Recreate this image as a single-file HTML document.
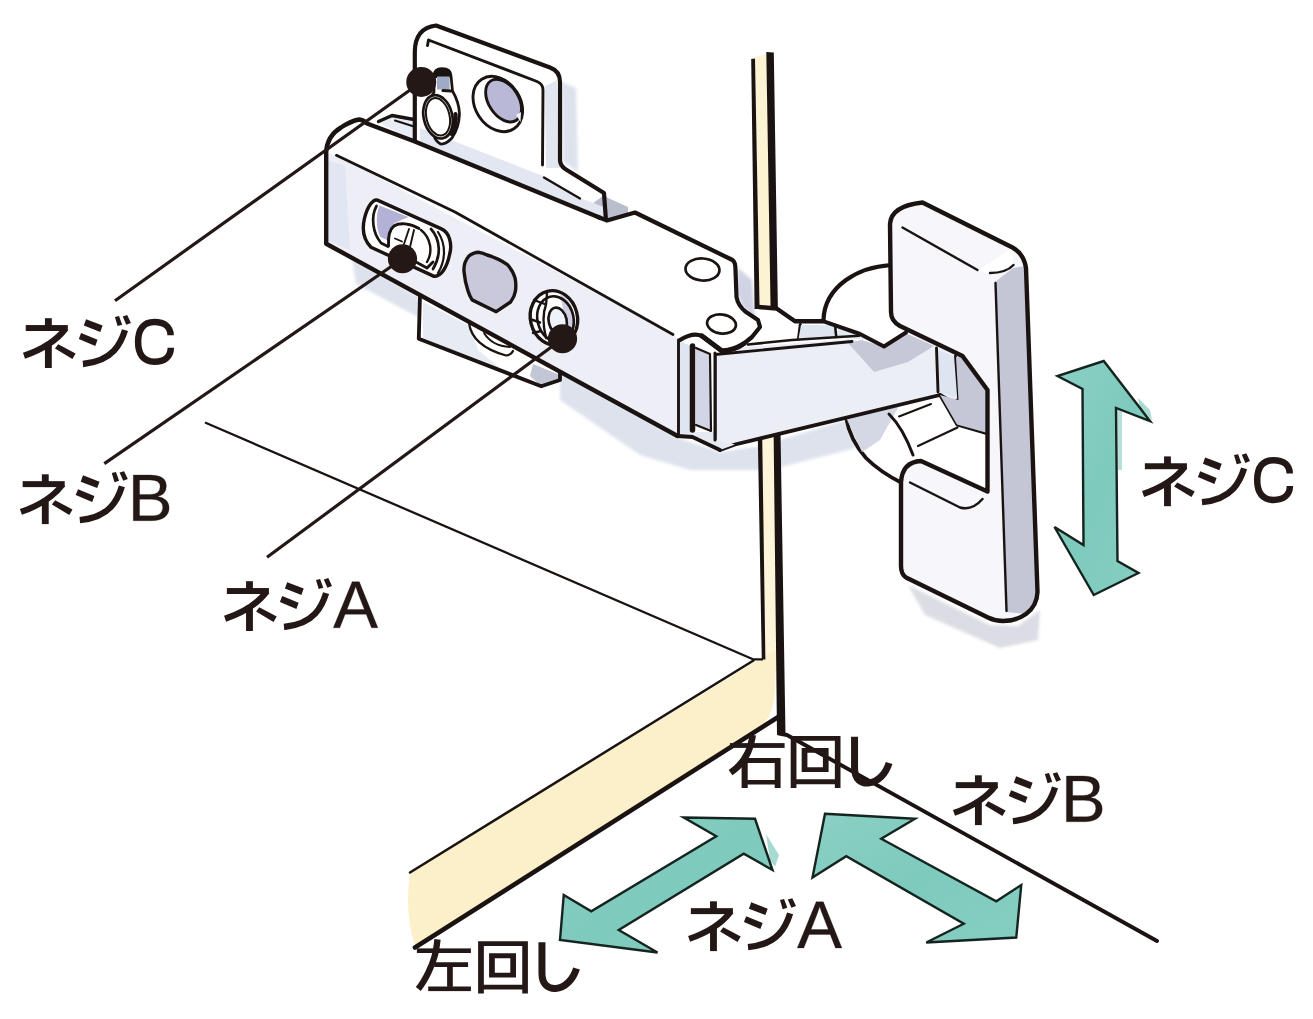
<!DOCTYPE html>
<html><head><meta charset="utf-8"><title>hinge</title>
<style>
html,body{margin:0;padding:0;background:#fff;}
body{width:1313px;height:1019px;overflow:hidden;font-family:"Liberation Sans",sans-serif;}
svg{display:block}
</style></head><body>
<svg width="1313" height="1019" viewBox="0 0 1313 1019">
<rect width="1313" height="1019" fill="#ffffff"/>
<defs>
<filter id="soft" x="-10%" y="-10%" width="120%" height="120%"><feGaussianBlur stdDeviation="1.6"/></filter>
<filter id="soft2" x="-10%" y="-10%" width="120%" height="120%"><feGaussianBlur stdDeviation="0.5"/></filter>
<linearGradient id="teal" x1="0" y1="0" x2="1" y2="1"><stop offset="0" stop-color="#8bd0c4"/><stop offset="0.5" stop-color="#7ecabd"/><stop offset="1" stop-color="#86cec2"/></linearGradient>
</defs>

<!-- ============ SHADOWS ============ -->
<g filter="url(#soft)" fill="#dde2ed">
  <!-- shadow under arm -->
  <path d="M560,372 L678,438 L720,452 L760,446 L846,420 L856,448 L800,462 L770,470 L690,470 L640,455 L560,400 Z"/>
  <!-- shadow left under arm -->
  <path d="M352,258 L420,298 L420,318 L356,284 Z"/>
  <!-- shadow right of top plate -->
  <path d="M562,82 L576,88 L578,172 L563,162 Z"/>
  <!-- shadow below plate -->
  <path d="M908,585 L990,625 L1018,626 L1040,610 L1038,640 L1000,648 L925,615 Z" fill="#dcdde4"/>
  <!-- shadow near tab right of arm -->
  <path d="M738,268 L752,280 L755,318 L742,306 L737,292 Z" fill="#cfd3e4"/>
</g>

<!-- ============ CABINET ============ -->
<g id="cabinet">
  <!-- cream strips -->
  <path d="M755,57 L766.5,54 L770.8,305.5 L759.4,304.5 Z" fill="#fcf3d3"/>
  <path d="M762,438 L773.8,438 L776.6,650 L775,690 Q774,712 763.5,724.5 L416,949 Q404,915 410,873 L757,660.5 L765,658 Z" fill="#fcf0ca"/>
  <path d="M762,438 L773.8,438 L776.6,650 L765,656 Z" fill="#fdf5da"/>
  <!-- thin back line -->
  <path d="M205,422.5 L753,659.3 L763,659.3" stroke="#1a1311" stroke-width="2.3" fill="none" stroke-linejoin="round"/>
  <!-- strip top thin line -->
  <path d="M753.5,660.5 L410,872.5" stroke="#1a1311" stroke-width="2.5" fill="none" stroke-linecap="round"/>
  <!-- strip bottom thick line -->
  <path d="M779,716.5 L415,947.5" stroke="#1a1311" stroke-width="4.6" fill="none" stroke-linecap="round"/>
  <!-- right floor line -->
  <path d="M779,733.5 L787,735 L1157,941" stroke="#1a1311" stroke-width="3.9" fill="none" stroke-linecap="round" stroke-linejoin="round"/>
  <!-- door edge upper -->
  <path d="M751.2,59 L755,58.5 L759.6,309 L754.6,309 Z" fill="#1a1311"/>
  <path d="M766.3,52 L773.8,52.5 L777.9,310 L770.6,310 Z" fill="#1a1311"/>
  <!-- door edge lower -->
  <path d="M757.8,436 L762.2,436 L765.4,659.5 L761.8,659.5 Z" fill="#1a1311"/>
  <path d="M773.6,432 L780.5,432 L785.5,734.5 L777,734.5 Z" fill="#1a1311"/>
</g>

<!-- ============ TOP PLATE (behind arm) ============ -->
<g id="topplate" stroke-linejoin="round" stroke-linecap="round">
  <path d="M378,122 L392,115.5 L414,119.5 L414,141 Z" fill="#e8ecf5" stroke="none"/>
  <path d="M378.5,121.5 L392,115.5 L414,119.5" fill="none" stroke="#1a1311" stroke-width="3.4"/>
  <path d="M395,120.5 L414,126.5" fill="none" stroke="#1a1311" stroke-width="2"/>
  <path d="M414.8,142 L414.8,52 Q415,28 436,25.5 L550,67.5 Q560,71 560,82 L560,160 Q560,166 566,169.5 L604,193 L606,221 L560,203 L414.8,140 Z" fill="#ffffff" stroke="none"/>
  <path d="M545,86 L557,80 L558,160 L562,168 L546,168 Z" fill="#e2e6f0" stroke="none" filter="url(#soft2)"/>
  <path d="M593.3,203 L604.2,195 L605.2,216 L599,215.4 Z" fill="#b9bccf" stroke="none"/>
  <!-- light band at base -->
  <path d="M420,128 L543,176 L580,198 L604,207 L604,219 L420,141 Z" fill="#e3e7f1" stroke="none"/>
  <path d="M606,197 L628,207 L628,214 L607,220 Z" fill="#b9bdcc" stroke="none"/>
  <path d="M414.8,142 L414.8,52 Q415,28 436,25.5 L550,67.5 Q560,71 560,82 L560,160 Q560,166 566,169.5 L604,193 L606,221" fill="none" stroke="#1a1311" stroke-width="4.2"/>
  <!-- inner line -->
  <path d="M427.5,45.5 L428.5,40 L537,81.5 Q543,84 543,90 L542.5,165" fill="none" stroke="#1a1311" stroke-width="2.9"/>
  <path d="M544,177.5 L580,198.5" fill="none" stroke="#1a1311" stroke-width="2.4"/>
  <!-- round hole -->
  <ellipse cx="497.8" cy="104" rx="29.5" ry="22.5" transform="rotate(57 497.8 104)" fill="#ffffff" stroke="#1a1311" stroke-width="2.9"/>
  <ellipse cx="503.6" cy="100.6" rx="23.5" ry="15" transform="rotate(57 503.6 100.6)" fill="#b9b8d6" stroke="#1a1311" stroke-width="2.9"/>
  <path d="M516,115 L520.5,122 L521,112 Z" fill="#f3f3fa" stroke="none"/>
  <!-- C slot -->
  <path d="M434,76 Q434,68.5 442,68.5 Q451,68.5 451,76 L452.5,91 Q459,102 459.5,114 Q459,128 452,138 Q446,144.5 440.5,144 Q435,141 433.5,134 L424,110 L434,92 Z" fill="#ffffff" stroke="#1a1311" stroke-width="2.7"/>
  <path d="M434.5,75.5 Q435,69 442.5,69 Q450.5,69 450.5,76 L450.5,77.5 L434.5,77.5 Z" fill="#1a1311" stroke="#1a1311" stroke-width="1.0"/>
  <rect x="437" y="76.5" width="12.6" height="13" fill="#9fabc6" stroke="none"/>
  <path d="M443,90.5 L451,91" fill="none" stroke="#1a1311" stroke-width="3.2"/>
  <path d="M455.5,114 Q457,124 451.5,134" fill="none" stroke="#1a1311" stroke-width="4.2"/>
  <ellipse cx="438" cy="116.8" rx="14.3" ry="22" transform="rotate(-13 438 116.8)" fill="#ffffff" stroke="#1a1311" stroke-width="2.7"/>
  <ellipse cx="438" cy="116.8" rx="11.6" ry="19" transform="rotate(-13 438 116.8)" fill="#ffffff" stroke="#1a1311" stroke-width="2.0"/>
</g>

<!-- ============ LOWER BRACKET (under arm) ============ -->
<g id="lowerbracket" stroke-linejoin="round" stroke-linecap="round">
  <path d="M420,296 L418.75,338.75 L541.25,386.25 L560,380 L560,368 L480,330 Z" fill="#ffffff" stroke="none"/>
  <path d="M423,302 L470,326 L478,350 L500,368 L440,346 L423,338 Z" fill="#e6ebf4" stroke="none" filter="url(#soft2)"/>
  <path d="M533,364 L560,375 L558,382.5 L541,386 L530,376 Z" fill="#c2c6d5" stroke="none"/>
  <path d="M420,296 L418.75,338.75 L541.25,386.25 L560,380 L560,372" fill="none" stroke="#1a1311" stroke-width="3.8"/>
  <path d="M469,323 Q472,346 506,355.5 Q511,355 513,351" fill="#ffffff" stroke="#1a1311" stroke-width="2.2"/>
  <path d="M484,333 Q492,346 510,347" fill="none" stroke="#1a1311" stroke-width="1.9"/>
</g>

<!-- ============ CUP + LINK ============ -->
<g id="cup" stroke-linejoin="round" stroke-linecap="round">
  <!-- cup upper -->
  <path d="M823.5,320 Q824,296 846,280 Q864,267 891,265 L891,330 L823.5,330 Z" fill="#ffffff" stroke="none"/>
  <path d="M823.5,320 Q824,296 846,280 Q864,267 891,265" fill="none" stroke="#1a1311" stroke-width="4.2"/>
  <!-- cup lower -->
  <path d="M846,417.5 Q850,440 866,458 Q880,472 902,483 L902,420 Z" fill="#ffffff" stroke="none"/>
  <path d="M846,417.5 Q850,440 866,458 Q880,472 902,483" fill="none" stroke="#1a1311" stroke-width="3.8"/>
  <path d="M846,417.5 L900,404 L880,440 L862,452 Z" fill="#d4d7e4" stroke="none" filter="url(#soft2)"/>
  <path d="M889,414 Q903,428 913,455" fill="none" stroke="#1a1311" stroke-width="3"/>
  <path d="M899,416.5 L931,404" fill="none" stroke="#1a1311" stroke-width="2.0"/>
  <path d="M918,446 L957.5,427.5" fill="none" stroke="#1a1311" stroke-width="2.2"/>
</g>

<g id="link" stroke-linejoin="round" stroke-linecap="round">
  <!-- knuckle / tab white -->
  <path d="M758,307 L776.6,308.5 L795,321 L800.3,325.6 L798.5,339 L742,347 L752,336 Z" fill="#ffffff" stroke="none"/>
  <path d="M759,307 L776.6,308.5 L795,321.2 L823,321.2" fill="none" stroke="#1a1311" stroke-width="4.4"/>
  <path d="M800.3,324.5 L798.5,338.6" fill="none" stroke="#1a1311" stroke-width="3"/>
  <!-- small rect -->
  <path d="M801,325 L835,325 L836.3,337 L798.5,339 Z" fill="#dde6f0" stroke="none"/>
  
  <path d="M835,325 L836.3,337" fill="none" stroke="#1a1311" stroke-width="2.6"/>
  <path d="M838,327 L868,340 L838,337 Z" fill="#e3eaf3" stroke="none"/>
  <!-- link body -->
  <path d="M715,354.5 L745,347 L852,339 L884,346.5 L906,332.5 L962,356 L958.5,400 L952.5,402.5 L940,395 L735,444.5 L720,450 L715,440 Z" fill="#eceef6" stroke="none"/>
  <!-- shadow on link -->
  <path d="M848,343 L874,372 L908,362 L934,346 L906,333.5 L884,347 L862,340 Z" fill="#c7c8d7" stroke="none" filter="url(#soft2)"/>
  <path d="M937,350 L956,357 L958,398 L938,392 Z" fill="#dfe5f0" stroke="none"/>
  <path d="M823,321.2 L860,334 L884,346.5 L906,332.5" fill="none" stroke="#1a1311" stroke-width="4"/>
  <!-- top lines -->
  <path d="M715,354.5 L852,341.5" fill="none" stroke="#1a1311" stroke-width="2.9"/>
  <path d="M748,344.5 L792,340 L859,335.7" fill="none" stroke="#1a1311" stroke-width="2.6"/>
  
  <!-- left edge -->
  <path d="M715,354 L715,439" fill="none" stroke="#1a1311" stroke-width="3.2"/>
  <!-- bottom edge -->
  <path d="M720,450 L735,444.5 L940,395 L952.5,402.5 L958.5,400" fill="none" stroke="#1a1311" stroke-width="3.8"/>
  <!-- right end -->
  <path d="M936.5,348 L938,392" fill="none" stroke="#1a1311" stroke-width="2.9"/>
  <path d="M955.5,356 L958.8,400" fill="none" stroke="#1a1311" stroke-width="2.9"/>
  <path d="M940,395 L957,424.5 L986,433" fill="none" stroke="#1a1311" stroke-width="3.4"/>
</g>

<!-- ============ ARM BODY ============ -->
<g id="arm" stroke-linejoin="round" stroke-linecap="round">
  <!-- whole silhouette white -->
  <path d="M326.2,243.75 L326.2,152 Q327,136 341,127.5 Q351,121 359,119.5 Q364,120 367,123.5 L414.8,141.5 L600,217.8 L607,220 L635,212.5 L732.5,260 Q735.5,262 735.5,270 L736.5,297 Q738,306 746,312 L758,320 L760,327 L752,337 L744,343.5 Q735,350 722,351 L715,353 L715,440 L692.5,437 L677.5,436 Z" fill="#ffffff" stroke="none"/>
  <!-- front face -->
  <path d="M327,153 L336.4,155.3 L672.5,333 L678.5,340 L678.5,436 L326.2,243.75 Z" fill="#eeeef6" stroke="none"/>
  <path d="M326,160 L345,166 L350,250 L326,240 Z" fill="#e2e6f2" stroke="none" filter="url(#soft2)"/>
  <!-- end face -->
  <path d="M679.5,341 L691,346 L691,433 L679.5,436 Z" fill="#dfe5f1" stroke="none"/>
  <path d="M696,348 L710,354 L710,431 L696,425 Z" fill="#d2d5e6" stroke="none"/>
  <path d="M677.5,436 L692.5,437 L720,450 L735,444.5 L715,440 L715,432 L691,432 Z" fill="#e6eaf3" stroke="none"/>
  <!-- outline -->
  <path d="M677.5,436 L326.2,243.75 L326.2,152 Q327,136 341,127.5 Q351,121 359,119.5 Q364,120 367,123.5 L414.8,141.5 L600,217.8" fill="none" stroke="#1a1311" stroke-width="4.4"/>
  <path d="M598,217 L607,220.5 L635,212.5 L732.5,260 Q735.5,262 735.5,270 L736.5,297 Q738,306 746,312 L758,320 L760,327 L752,337 L744,343.5 Q735,350 722,351 L702,336 Q693,332 680,340" fill="none" stroke="#1a1311" stroke-width="4.2"/>
  <path d="M744,343.5 Q735,350 722,351 L702,336" fill="none" stroke="#1a1311" stroke-width="5.0"/>
  <!-- front-top edge -->
  <path d="M336.4,155.3 L455,212 L673,334.5" fill="none" stroke="#1a1311" stroke-width="2.7"/>
  <!-- right verticals -->
  <path d="M678.5,340 L678.5,436" fill="none" stroke="#1a1311" stroke-width="2.9"/>
  <path d="M692.5,346 L692.5,430" fill="none" stroke="#1a1311" stroke-width="5.5"/>
  <path d="M696,348 L710,354 L711,431 L696,425" fill="none" stroke="#1a1311" stroke-width="2.2"/>
  <path d="M677.5,436 L692.5,437 L720,450" fill="none" stroke="#1a1311" stroke-width="3.8"/>
  <path d="M715,353 L715,440" fill="none" stroke="#1a1311" stroke-width="3"/>
  <!-- top circles -->
  <ellipse cx="702.5" cy="269.5" rx="17" ry="11" transform="rotate(4 702.5 269.5)" fill="#ffffff" stroke="#1a1311" stroke-width="2.7"/>
  <ellipse cx="721.5" cy="324" rx="14.5" ry="9.5" transform="rotate(8 721.5 324)" fill="#ffffff" stroke="#1a1311" stroke-width="2.7"/>

  <!-- slot B -->
  <path d="M377.4,200.1 L441.4,228.9 C449.6,232.5 452.4,244.4 449.6,254.5 C446.9,267.3 441.4,276.4 434.1,276.4 L371,247.2 C363.7,239.8 361.9,228.9 364.6,217.9 C367.4,206.9 372.9,198.7 377.4,200.1 Z" fill="#ffffff" stroke="#1a1311" stroke-width="3.4"/>
  <path d="M379.5,205.5 L408.5,217 L394.5,223 L388,240.5 L380.5,237 C375.5,228 376,214 379.5,205.5 Z" fill="#b3b1d6" stroke="none"/>
  <path d="M376.5,206 C371,216 372,232 381,243 L388,246.5" fill="none" stroke="#1a1311" stroke-width="2.7"/>
  <!-- screw head -->
  <path d="M393,226 C398,222 410,222.5 419,228 C430,235 434,250 428,262 L410,266 L390,250 Z" fill="#ffffff" stroke="none"/>
  <path d="M388.5,246 C388,236 390,229 394,226 C399,222.5 410,223 419,228.5" fill="none" stroke="#1a1311" stroke-width="2.9"/>
  <path d="M395,238.5 L402,241.5 M409,229 L404,244 M414,230 L410,247" fill="none" stroke="#1a1311" stroke-width="1.9"/>
  <path d="M421,230 C431,238 433,252 427,262" fill="none" stroke="#1a1311" stroke-width="2.4"/>
  <path d="M431,229 C441,240 441,256 433,269" fill="none" stroke="#1a1311" stroke-width="2.7"/>
  <path d="M438,232 C446,244 446,260 438,273" fill="none" stroke="#1a1311" stroke-width="2.2"/>
  <path d="M416,262 L427,268 L433,262" fill="none" stroke="#1a1311" stroke-width="2.9"/>

  <!-- centre hole -->
  <path d="M479.1,252.3 Q473,252.5 468.9,256 Q463,263 464.1,272.1 Q465,282 467.8,290.3 Q469.5,296 472.1,299.9 L496.2,311.7 L510.6,302 Q514.5,297 515.4,291.3 Q516.5,284 514.9,277.4 Q512.5,270 507.4,264.6 Q499,258.5 487.1,255 Q483,253 479.1,252.3 Z" fill="#cac9db" stroke="#1a1311" stroke-width="3.4"/>

  <!-- screw A -->
  <ellipse cx="553.9" cy="318" rx="23.5" ry="27.5" transform="rotate(-14 553.9 318)" fill="#ffffff" stroke="#1a1311" stroke-width="3.4"/>
  <path d="M560,294 Q573,300 575,320 Q576,333 568,342 L561,330 Q566,318 560,294 Z" fill="#cfcfe3" stroke="none"/>
  <ellipse cx="555.5" cy="319" rx="18" ry="23" transform="rotate(-14 555.5 319)" fill="none" stroke="#1a1311" stroke-width="2.6"/>
  <ellipse cx="557.7" cy="321" rx="9" ry="13.5" transform="rotate(-12 557.7 321)" fill="#eef3fa" stroke="#1a1311" stroke-width="2.6"/>
  <path d="M530,319 L540,322.5 M534,300 L546,304.5 L547,294 M533,333 L541,331 M546,304.5 Q541,318 546,338" fill="none" stroke="#1a1311" stroke-width="2.4"/>
</g>

<!-- ============ MOUNTING PLATE (right) ============ -->
<g id="mplate" stroke-linejoin="round" stroke-linecap="round">
  <!-- cut-out inner gray face -->
  <path d="M956,357 L962.5,356 L987.5,390 L987.5,433 L957,424.5 L940,395 L958.5,400 Z" fill="#c5c6d6" stroke="none"/>
  <!-- front face (C shape) -->
  <path d="M890,224 Q891,206 922.5,202.5 L1012.5,247.5 Q1024,254 1026,268 L1037.5,592 Q1037,606 1026,614 Q1016,621 1003,621 Q995,621 988,617.5 L906,577.5 Q901,574 901,566 L901,482.5 Q902,462 921,461 L987.5,491.5 L987.5,390 L962.5,356 L900,326 Q891,321 891,312 Z" fill="#f6f6fb" stroke="none"/>
  <!-- side face -->
  <path d="M995,282 L1013,268 L1026,266 L1037.5,592 Q1037,606 1026,614 L1006.5,612 Z" fill="#c4c5d5" stroke="none"/>
  <path d="M990,274 Q1006,273 1014,264 L1012.5,248 L978,270 Z" fill="#ffffff" stroke="none"/>
  <!-- outline -->
  <path d="M890,224 Q891,206 922.5,202.5 L1012.5,247.5 Q1024,254 1026,268 L1037.5,592 Q1037,606 1026,614 Q1016,621 1003,621 Q995,621 988,617.5 L906,577.5 Q901,574 901,566 L901,482.5 Q902,462 921,461 L987.5,491.5 L987.5,390 L962.5,356 L900,326 Q891,321 891,312 Z" fill="none" stroke="#1a1311" stroke-width="4.4"/>
  <!-- inner lines -->
  <path d="M902.5,227.5 L977.5,270" fill="none" stroke="#1a1311" stroke-width="2.4"/>
  <path d="M990,273 Q1006,273 1013.5,265" fill="none" stroke="#1a1311" stroke-width="2.4"/>
  <path d="M995.5,283 L1006.5,611" fill="none" stroke="#1a1311" stroke-width="2.4"/>
  <path d="M910,482.5 L960,507.5 Q972,511 982.5,499" fill="none" stroke="#1a1311" stroke-width="2.4"/>
</g>

<!-- ============ ARROWS ============ -->
<g id="arrows" stroke-linejoin="miter">
  <path d="M766,834 L779,855 L775,867 L770,860 Z" fill="#a7dbd2" filter="url(#soft2)"/>
  <path d="M1117,409 L1122,412 L1122,470 L1118,470 Z" fill="#b5e0d9" filter="url(#soft2)"/>
  <path d="M1138,398 L1150,410 L1152,420 L1140,408 Z" fill="#a7dbd2" filter="url(#soft2)"/>
  <!-- arrow C -->
  <path d="M1103.75,361 L1150,421 L1116,408 L1117.5,561 L1138.5,573 L1093.75,595 L1054.5,527 L1083.5,545 L1082.5,389 L1057.5,376 Z" fill="url(#teal)" stroke="none"/>
  <path d="M1150,421 L1103.75,361 L1057.5,376 L1082.5,389 L1083.5,545 L1054.5,527 L1093.75,595 L1138.5,573 L1117.5,561 L1116,408 Z" fill="none" stroke="#15241f" stroke-width="2.4"/>
  <!-- arrow A -->
  <path d="M683.75,817.5 L755,818.75 L772.5,870 L743.75,853.75 L618.75,930 L657.5,952.5 L560,940 L563.75,895 L591.25,911.25 L716.25,836.25 Z" fill="url(#teal)" stroke="#15241f" stroke-width="2.4"/>
  <!-- arrow B -->
  <path d="M825,813.75 L915,818.75 L881.25,838.75 L996.25,901.25 L1021.25,885 L1016.25,937.5 L926.25,942.5 L963.75,923.75 L846.25,856.25 L812.5,877.5 Z" fill="url(#teal)" stroke="#15241f" stroke-width="2.4"/>
</g>

<!-- ============ LEADERS ============ -->
<g id="leaders" stroke="#231815" stroke-width="3.2" stroke-linecap="butt">
  <path d="M421.25,82 L115,300.7"/>
  <path d="M402.5,258.75 L104.3,463.6"/>
  <path d="M562.5,338.75 L267,557.3"/>
</g>
<g fill="#231815">
  <circle cx="421.25" cy="82" r="15"/>
  <circle cx="402.5" cy="258.75" r="14.6"/>
  <circle cx="562.5" cy="338.75" r="14.6"/>
</g>

<g id="labels">
<g transform="translate(22.10 318.20)" fill="#231815" stroke="none"><rect x="22.85" y="0" width="6.85" height="8"/><rect x="3.66" y="6.86" width="42.05" height="5.95"/><rect x="22.85" y="24.5" width="6.85" height="25.3"/><path d="M43.6,10.2 C36,20.5 22.5,30.5 1.9,37.6" fill="none" stroke="#231815" stroke-width="6.2" stroke-linecap="butt" stroke-linejoin="miter"/><path d="M36.1,26.05 L53.5,35.2 L50.3,40.7 L32.9,30.2 Z"/></g>
<g transform="translate(78.80 315.10)" fill="#231815" stroke="none"><path d="M7.3,4.1 L23.8,10.5 L21.5,16.9 L5.0,10.5 Z"/><path d="M2.3,18.0 L18.7,24.7 L16.5,30.8 L0,23.8 Z"/><path d="M46.2,15.1 C43.5,24 39.5,31 35.2,35.6 C27,44.5 16,47.8 4.1,48.9" fill="none" stroke="#231815" stroke-width="6.3" stroke-linecap="butt" stroke-linejoin="miter"/><path d="M36.1,1.8 L40.2,0.9 L43.4,9.6 L38.8,11.0 Z"/><path d="M43.9,1.4 L48.4,0 L52.1,7.8 L47.5,9.6 Z"/></g>
<g transform="translate(134.80 318.80)" fill="#231815" stroke="none"><path d="M35.8,16.45 C35.8,8 29.5,3.15 19.6,3.15 C8.6,3.15 3.3,10.5 3.3,23.05 C3.3,35.8 8.6,42.95 19.6,42.95 C29.5,42.95 36.0,38 36.0,29.0" fill="none" stroke="#231815" stroke-width="6.5" stroke-linecap="butt" stroke-linejoin="miter"/></g>
<g transform="translate(19.00 474.30)" fill="#231815" stroke="none"><rect x="22.85" y="0" width="6.85" height="8"/><rect x="3.66" y="6.86" width="42.05" height="5.95"/><rect x="22.85" y="24.5" width="6.85" height="25.3"/><path d="M43.6,10.2 C36,20.5 22.5,30.5 1.9,37.6" fill="none" stroke="#231815" stroke-width="6.2" stroke-linecap="butt" stroke-linejoin="miter"/><path d="M36.1,26.05 L53.5,35.2 L50.3,40.7 L32.9,30.2 Z"/></g>
<g transform="translate(75.70 471.20)" fill="#231815" stroke="none"><path d="M7.3,4.1 L23.8,10.5 L21.5,16.9 L5.0,10.5 Z"/><path d="M2.3,18.0 L18.7,24.7 L16.5,30.8 L0,23.8 Z"/><path d="M46.2,15.1 C43.5,24 39.5,31 35.2,35.6 C27,44.5 16,47.8 4.1,48.9" fill="none" stroke="#231815" stroke-width="6.3" stroke-linecap="butt" stroke-linejoin="miter"/><path d="M36.1,1.8 L40.2,0.9 L43.4,9.6 L38.8,11.0 Z"/><path d="M43.9,1.4 L48.4,0 L52.1,7.8 L47.5,9.6 Z"/></g>
<path transform="translate(127.78 520.70) scale(0.03284 0.03243)" d="M1258 -397Q1258 -209 1121 -104Q984 0 740 0H168V-1409H680Q1176 -1409 1176 -1067Q1176 -942 1106 -857Q1036 -772 908 -743Q1076 -723 1167 -630Q1258 -538 1258 -397ZM984 -1044Q984 -1158 906 -1207Q828 -1256 680 -1256H359V-810H680Q833 -810 908 -868Q984 -925 984 -1044ZM1065 -412Q1065 -661 715 -661H359V-153H730Q905 -153 985 -218Q1065 -283 1065 -412Z" fill="#231815" stroke="#231815" stroke-width="9.2" stroke-linejoin="round"/>
<g transform="translate(223.20 581.20)" fill="#231815" stroke="none"><rect x="22.85" y="0" width="6.85" height="8"/><rect x="3.66" y="6.86" width="42.05" height="5.95"/><rect x="22.85" y="24.5" width="6.85" height="25.3"/><path d="M43.6,10.2 C36,20.5 22.5,30.5 1.9,37.6" fill="none" stroke="#231815" stroke-width="6.2" stroke-linecap="butt" stroke-linejoin="miter"/><path d="M36.1,26.05 L53.5,35.2 L50.3,40.7 L32.9,30.2 Z"/></g>
<g transform="translate(279.90 578.10)" fill="#231815" stroke="none"><path d="M7.3,4.1 L23.8,10.5 L21.5,16.9 L5.0,10.5 Z"/><path d="M2.3,18.0 L18.7,24.7 L16.5,30.8 L0,23.8 Z"/><path d="M46.2,15.1 C43.5,24 39.5,31 35.2,35.6 C27,44.5 16,47.8 4.1,48.9" fill="none" stroke="#231815" stroke-width="6.3" stroke-linecap="butt" stroke-linejoin="miter"/><path d="M36.1,1.8 L40.2,0.9 L43.4,9.6 L38.8,11.0 Z"/><path d="M43.9,1.4 L48.4,0 L52.1,7.8 L47.5,9.6 Z"/></g>
<path transform="translate(333.17 627.80) scale(0.03284 0.03272)" d="M1167 0 1006 -412H364L202 0H4L579 -1409H796L1362 0ZM685 -1265 676 -1237Q651 -1154 602 -1024L422 -561H949L768 -1026Q740 -1095 712 -1182Z" fill="#231815" stroke="#231815" stroke-width="9.2" stroke-linejoin="round"/>
<g transform="translate(1141.20 456.40)" fill="#231815" stroke="none"><rect x="22.85" y="0" width="6.85" height="8"/><rect x="3.66" y="6.86" width="42.05" height="5.95"/><rect x="22.85" y="24.5" width="6.85" height="25.3"/><path d="M43.6,10.2 C36,20.5 22.5,30.5 1.9,37.6" fill="none" stroke="#231815" stroke-width="6.2" stroke-linecap="butt" stroke-linejoin="miter"/><path d="M36.1,26.05 L53.5,35.2 L50.3,40.7 L32.9,30.2 Z"/></g>
<g transform="translate(1197.90 453.30)" fill="#231815" stroke="none"><path d="M7.3,4.1 L23.8,10.5 L21.5,16.9 L5.0,10.5 Z"/><path d="M2.3,18.0 L18.7,24.7 L16.5,30.8 L0,23.8 Z"/><path d="M46.2,15.1 C43.5,24 39.5,31 35.2,35.6 C27,44.5 16,47.8 4.1,48.9" fill="none" stroke="#231815" stroke-width="6.3" stroke-linecap="butt" stroke-linejoin="miter"/><path d="M36.1,1.8 L40.2,0.9 L43.4,9.6 L38.8,11.0 Z"/><path d="M43.9,1.4 L48.4,0 L52.1,7.8 L47.5,9.6 Z"/></g>
<g transform="translate(1253.90 457.00)" fill="#231815" stroke="none"><path d="M35.8,16.45 C35.8,8 29.5,3.15 19.6,3.15 C8.6,3.15 3.3,10.5 3.3,23.05 C3.3,35.8 8.6,42.95 19.6,42.95 C29.5,42.95 36.0,38 36.0,29.0" fill="none" stroke="#231815" stroke-width="6.5" stroke-linecap="butt" stroke-linejoin="miter"/></g>
<g transform="translate(952.10 775.30)" fill="#231815" stroke="none"><rect x="22.85" y="0" width="6.85" height="8"/><rect x="3.66" y="6.86" width="42.05" height="5.95"/><rect x="22.85" y="24.5" width="6.85" height="25.3"/><path d="M43.6,10.2 C36,20.5 22.5,30.5 1.9,37.6" fill="none" stroke="#231815" stroke-width="6.2" stroke-linecap="butt" stroke-linejoin="miter"/><path d="M36.1,26.05 L53.5,35.2 L50.3,40.7 L32.9,30.2 Z"/></g>
<g transform="translate(1008.80 772.20)" fill="#231815" stroke="none"><path d="M7.3,4.1 L23.8,10.5 L21.5,16.9 L5.0,10.5 Z"/><path d="M2.3,18.0 L18.7,24.7 L16.5,30.8 L0,23.8 Z"/><path d="M46.2,15.1 C43.5,24 39.5,31 35.2,35.6 C27,44.5 16,47.8 4.1,48.9" fill="none" stroke="#231815" stroke-width="6.3" stroke-linecap="butt" stroke-linejoin="miter"/><path d="M36.1,1.8 L40.2,0.9 L43.4,9.6 L38.8,11.0 Z"/><path d="M43.9,1.4 L48.4,0 L52.1,7.8 L47.5,9.6 Z"/></g>
<path transform="translate(1060.88 821.70) scale(0.03284 0.03243)" d="M1258 -397Q1258 -209 1121 -104Q984 0 740 0H168V-1409H680Q1176 -1409 1176 -1067Q1176 -942 1106 -857Q1036 -772 908 -743Q1076 -723 1167 -630Q1258 -538 1258 -397ZM984 -1044Q984 -1158 906 -1207Q828 -1256 680 -1256H359V-810H680Q833 -810 908 -868Q984 -925 984 -1044ZM1065 -412Q1065 -661 715 -661H359V-153H730Q905 -153 985 -218Q1065 -283 1065 -412Z" fill="#231815" stroke="#231815" stroke-width="9.2" stroke-linejoin="round"/>
<g transform="translate(687.20 901.30)" fill="#231815" stroke="none"><rect x="22.85" y="0" width="6.85" height="8"/><rect x="3.66" y="6.86" width="42.05" height="5.95"/><rect x="22.85" y="24.5" width="6.85" height="25.3"/><path d="M43.6,10.2 C36,20.5 22.5,30.5 1.9,37.6" fill="none" stroke="#231815" stroke-width="6.2" stroke-linecap="butt" stroke-linejoin="miter"/><path d="M36.1,26.05 L53.5,35.2 L50.3,40.7 L32.9,30.2 Z"/></g>
<g transform="translate(743.90 898.20)" fill="#231815" stroke="none"><path d="M7.3,4.1 L23.8,10.5 L21.5,16.9 L5.0,10.5 Z"/><path d="M2.3,18.0 L18.7,24.7 L16.5,30.8 L0,23.8 Z"/><path d="M46.2,15.1 C43.5,24 39.5,31 35.2,35.6 C27,44.5 16,47.8 4.1,48.9" fill="none" stroke="#231815" stroke-width="6.3" stroke-linecap="butt" stroke-linejoin="miter"/><path d="M36.1,1.8 L40.2,0.9 L43.4,9.6 L38.8,11.0 Z"/><path d="M43.9,1.4 L48.4,0 L52.1,7.8 L47.5,9.6 Z"/></g>
<path transform="translate(797.17 947.90) scale(0.03284 0.03272)" d="M1167 0 1006 -412H364L202 0H4L579 -1409H796L1362 0ZM685 -1265 676 -1237Q651 -1154 602 -1024L422 -561H949L768 -1026Q740 -1095 712 -1182Z" fill="#231815" stroke="#231815" stroke-width="9.2" stroke-linejoin="round"/>
<g transform="translate(729.00 735.10)" fill="#231815" stroke="none"><rect x="0.9" y="8.0" width="54.7" height="4.8"/><path d="M23.8,0 C22.5,8 20.5,14 18.9,17.4 C15,26 9,32.5 1.55,37.5" fill="none" stroke="#231815" stroke-width="6.5" stroke-linecap="butt" stroke-linejoin="miter"/><path fill-rule="evenodd" d="M12.6,22.85 H51.6 V53 H45.7 V49.4 H18.7 V53 H12.6 Z M18.7,27.9 V45 H45.7 V27.9 Z"/></g>
<g transform="translate(790.70 735.90)" fill="#231815" stroke="none"><path fill-rule="evenodd" d="M0,0 H49.8 V52.1 H44.15 V48.3 H5.76 V52.1 H0 Z M5.76,4.75 V43.4 H44.15 V4.75 Z"/><path fill-rule="evenodd" d="M10.97,12.07 H37.9 V36.1 H10.97 Z M16.7,16.9 V31.35 H32.2 V16.9 Z"/></g>
<g transform="translate(850.80 736.80)" fill="#231815" stroke="none"><path d="M3.75,0 L3.75,31 C3.75,42.5 10,46.6 17.5,46.2 C27,45.6 35,37 38.3,26.2" fill="none" stroke="#231815" stroke-width="7.0" stroke-linecap="butt" stroke-linejoin="miter"/></g>
<g transform="translate(416.00 939.40)" fill="#231815" stroke="none"><rect x="0.9" y="9.0" width="54.0" height="4.6"/><path d="M21.5,0 C20.5,9 19.5,14 18.6,16.9 C16.5,25 10,40 2.3,49.5" fill="none" stroke="#231815" stroke-width="6.3" stroke-linecap="butt" stroke-linejoin="miter"/><rect x="18.3" y="22.85" width="33.8" height="4.75"/><rect x="31.1" y="27.0" width="5.7" height="20.5"/><rect x="12.2" y="47.1" width="42.7" height="4.6"/></g>
<g transform="translate(478.10 941.30)" fill="#231815" stroke="none"><path fill-rule="evenodd" d="M0,0 H49.8 V52.1 H44.15 V48.3 H5.76 V52.1 H0 Z M5.76,4.75 V43.4 H44.15 V4.75 Z"/><path fill-rule="evenodd" d="M10.97,12.07 H37.9 V36.1 H10.97 Z M16.7,16.9 V31.35 H32.2 V16.9 Z"/></g>
<g transform="translate(538.20 942.20)" fill="#231815" stroke="none"><path d="M3.75,0 L3.75,31 C3.75,42.5 10,46.6 17.5,46.2 C27,45.6 35,37 38.3,26.2" fill="none" stroke="#231815" stroke-width="7.0" stroke-linecap="butt" stroke-linejoin="miter"/></g>
</g>
</svg>
</body></html>
